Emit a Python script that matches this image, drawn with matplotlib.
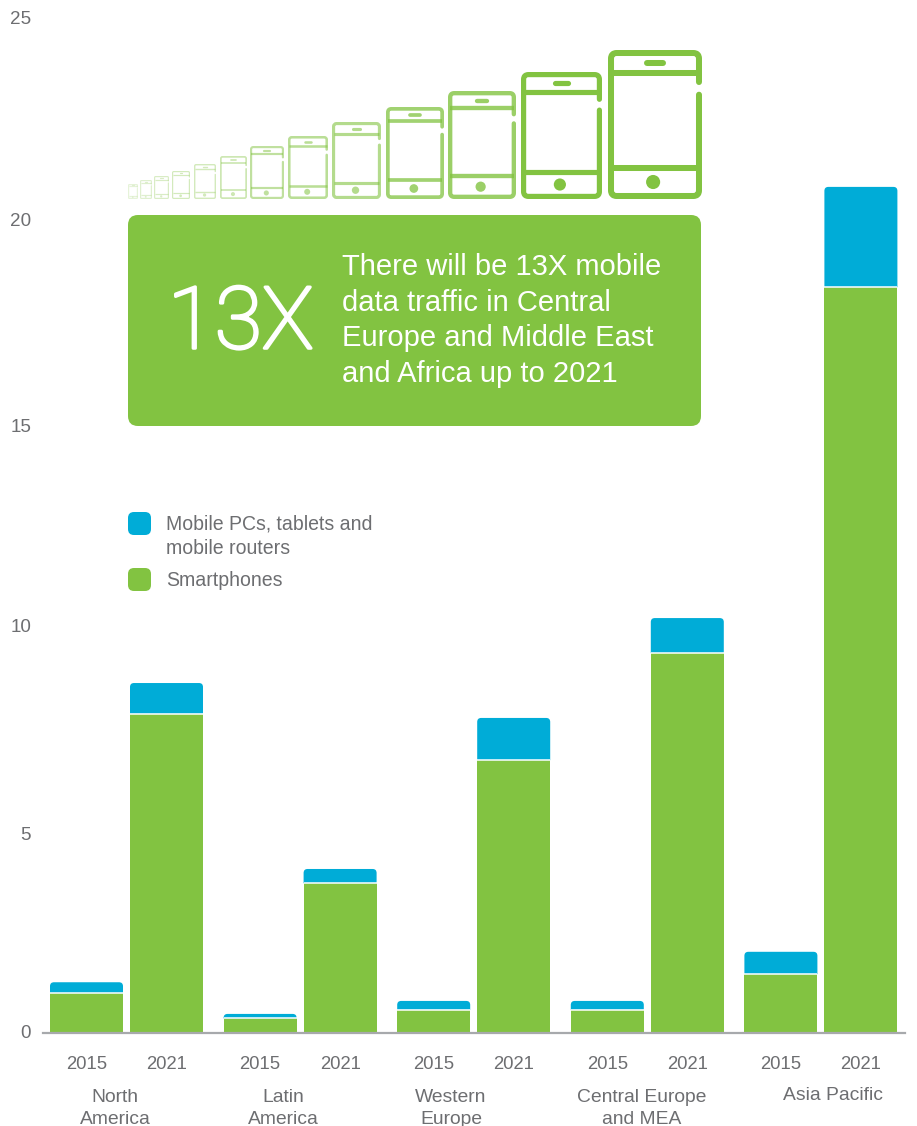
# Mobile data traffic by region, 2015 vs 2021
import matplotlib
matplotlib.use('Agg')
import matplotlib.pyplot as plt
import matplotlib.patheffects as pe
from matplotlib.patches import FancyBboxPatch, PathPatch, Circle
from matplotlib.path import Path
from matplotlib.transforms import Affine2D

plt.rcParams['font.family'] = ['Liberation Sans', 'DejaVu Sans']

GREEN = '#82c341'
BLUE = '#00acd7'
GREY = '#6d6e71'

# %% Data
regions = ['North\nAmerica', 'Latin\nAmerica', 'Western\nEurope', 'Central Europe\nand MEA', 'Asia Pacific']
years = ['2015', '2021']
smartphones_2015 = [0.98, 0.36, 0.57, 0.57, 1.45]
smartphones_2021 = [7.86, 3.69, 6.72, 9.36, 18.37]
mobile_pcs_2015 = [0.27, 0.11, 0.22, 0.22, 0.55]
mobile_pcs_2021 = [0.76, 0.35, 1.04, 0.86, 2.47]
y_ticks = [0, 5, 10, 15, 20, 25]

# phone icons: left, right, top in pixels, all stand on the same bottom line
phone_left = [128, 140, 154, 172, 194, 220, 250, 288, 332, 386, 448, 521, 608]
phone_right = [138, 152, 169, 190, 216, 247, 284, 328, 381, 444, 516, 602, 702]
phone_top = [184, 180, 176, 171, 164, 156, 146, 136, 122, 107, 91, 72, 50]
phone_alpha = [0.2, 0.25, 0.3, 0.35, 0.35, 0.4, 0.5, 0.55, 0.6, 0.75, 0.8, 1, 1]

callout_lines = ['There will be 13X mobile', 'data traffic in Central',
                 'Europe and Middle East', 'and Africa up to 2021']

# %% Figure set up
W, H = 917, 1126
fig = plt.figure(figsize=(W / 100, H / 100), dpi=100)
ax = fig.add_axes([43 / W, (H - 1033) / H, 862 / W, 1015 / H])

group_px = 173.6
ax.set_xlim(-83.5 / group_px, 778.5 / group_px)
ax.set_ylim(0, 25)
bar_w = 73 / group_px
offset = 40 / group_px
ry = 4 / 40.6
rx = 4 / group_px


def top_round_bar(x, bottom, height):
    # bar with only the two top corners rounded
    l, r = x - bar_w / 2, x + bar_w / 2
    t = bottom + height
    h = min(ry, height)
    verts = [(l, bottom), (l, t - h), (l, t), (l + rx, t), (r - rx, t), (r, t), (r, t - h),
             (r, bottom), (l, bottom)]
    codes = [Path.MOVETO, Path.LINETO, Path.CURVE3, Path.CURVE3, Path.LINETO,
             Path.CURVE3, Path.CURVE3, Path.LINETO, Path.CLOSEPOLY]
    ax.add_patch(PathPatch(Path(verts, codes), facecolor=BLUE, edgecolor='none'))


x_ticks = []
x_labels = []
for i in range(len(regions)):
    for sign, green, blue, year in ((-1, smartphones_2015[i], mobile_pcs_2015[i], years[0]),
                                    (1, smartphones_2021[i], mobile_pcs_2021[i], years[1])):
        x = i + sign * offset
        ax.bar(x, green, width=bar_w, color=GREEN, linewidth=0)
        top_round_bar(x, green, blue)
        ax.plot([x - bar_w / 2, x + bar_w / 2], [green, green], color='white', lw=1.1,
                solid_capstyle='butt')
        x_ticks.append(x)
        x_labels.append(year)

for s in ['top', 'left', 'right']:
    ax.spines[s].set_visible(False)
ax.spines['bottom'].set_color('#a7a9ac')
ax.spines['bottom'].set_linewidth(1.6)
ax.set_xticks(x_ticks)
ax.set_xticklabels(x_labels, fontsize=13.3, color=GREY)
ax.set_yticks(y_ticks)
ax.set_yticklabels([str(v) for v in y_ticks], fontsize=13.6, color=GREY)
ax.tick_params(axis='x', length=0, pad=16.5)
ax.tick_params(axis='y', length=0, pad=8.5)
# the printed labels do not sit exactly on the scale, nudge them (pixels, up is plus)
for lab, dy in zip(ax.get_yticklabels(), [2, -3, 1, -1, 1, 0]):
    lab.set_transform(lab.get_transform() + Affine2D().translate(0, dy))

# %% Overlay in pixel coordinates for the infographic parts
ov = fig.add_axes([0, 0, 1, 1], facecolor='none')
ov.set_xlim(0, W)
ov.set_ylim(H, 0)
ov.axis('off')

# region names under the years
name_x = [115, 283, 451, 642, 833]
name_y = [1097, 1097, 1097, 1097, 1094]
for name, nx, ny in zip(regions, name_x, name_y):
    for j, part in enumerate(name.split('\n')):
        ov.text(nx, ny + 1 + j * 22, part, fontsize=13.9, color=GREY, ha='center', va='center', clip_on=False)

# callout box
ov.add_patch(FancyBboxPatch((138, 225), 553, 191, boxstyle='round,pad=10,rounding_size=10',
                            facecolor=GREEN, edgecolor='none'))
ov.text(240.5, 325, '13X', fontsize=62, color='white', ha='center', va='center',
        family='Roboto', weight='light',
        path_effects=[pe.withStroke(linewidth=2.2, foreground='white', capstyle='round', joinstyle='round')])
for j, line in enumerate(callout_lines):
    ov.text(342, 267 + j * 35.6, line, fontsize=21, color='white', ha='left', va='center')

# legend
for y0, col in ((512, BLUE), (568, GREEN)):
    ov.add_patch(FancyBboxPatch((133, y0 + 5), 13, 13, boxstyle='round,pad=5,rounding_size=6',
                                facecolor=col, edgecolor='none'))
ov.text(166, 524.5, 'Mobile PCs, tablets and', fontsize=14.05, color=GREY, va='center')
ov.text(166, 548.5, 'mobile routers', fontsize=14.05, color=GREY, va='center')
ov.text(166, 580.5, 'Smartphones', fontsize=14.05, color=GREY, va='center')


# %% Phone icons
def draw_phone(l, r, t, alpha, b=199):
    w, h = r - l, b - t
    px = 0.064 * w
    lw = max(px, 1.2) * 0.72
    hw = max(px, 1.2) / 2
    l2, r2, t2, b2 = l + hw, r - hw, t + hw, b - hw
    c = 0.06 * w
    verts = [(r2, t + 0.215 * h), (r2, t2 + c), (r2, t2), (r2 - c, t2), (l2 + c, t2), (l2, t2), (l2, t2 + c),
             (l2, b2 - c), (l2, b2), (l2 + c, b2), (r2 - c, b2), (r2, b2), (r2, b2 - c), (r2, t + 0.30 * h)]
    codes = [Path.MOVETO, Path.LINETO, Path.CURVE3, Path.CURVE3, Path.LINETO, Path.CURVE3, Path.CURVE3,
             Path.LINETO, Path.CURVE3, Path.CURVE3, Path.LINETO, Path.CURVE3, Path.CURVE3, Path.LINETO]
    ov.add_patch(PathPatch(Path(verts, codes), fill=False, edgecolor=GREEN, lw=lw, alpha=alpha,
                           capstyle='round', joinstyle='round'))
    ov.plot([l2, r2], [t + 0.155 * h] * 2, color=GREEN, lw=lw, alpha=alpha, solid_capstyle='butt')
    ov.plot([l2, r2], [t + 0.79 * h] * 2, color=GREEN, lw=lw, alpha=alpha, solid_capstyle='butt')
    cx = (l + r) / 2
    ov.plot([cx - 0.08 * w, cx + 0.08 * w], [t + 0.088 * h] * 2, color=GREEN, lw=lw, alpha=alpha,
            solid_capstyle='round')
    ov.add_patch(Circle((l + 0.48 * w, t + 0.886 * h), 0.075 * w, facecolor=GREEN, edgecolor='none', alpha=alpha))


for l, r, t, a in zip(phone_left, phone_right, phone_top, phone_alpha):
    draw_phone(l, r, t, a)

fig.savefig('out.png', dpi=100)
